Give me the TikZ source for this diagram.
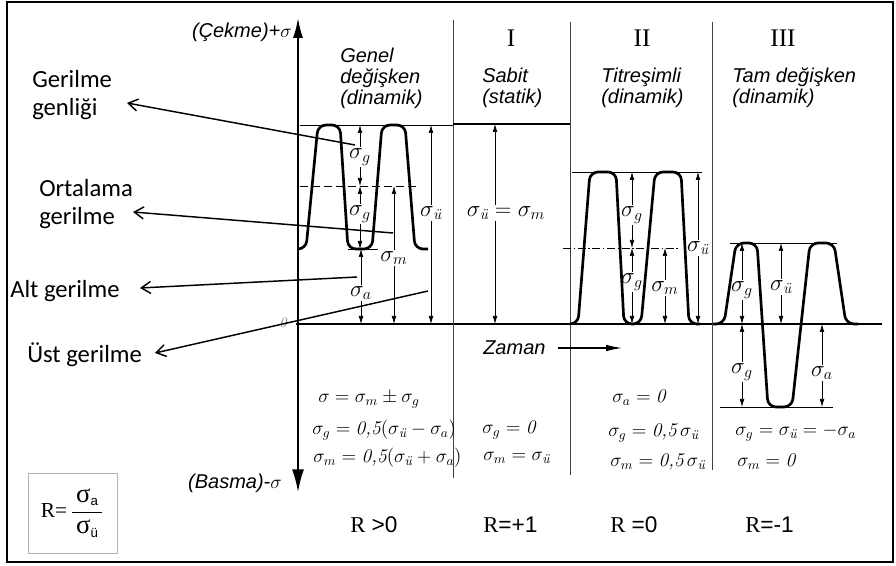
\documentclass[tikz,border=0pt]{standalone}
\usepackage{amsmath}
\usepackage{fontspec}
\newfontfamily\hv{Liberation Sans}
\newfontfamily\calib{Carlito}
\newfontfamily\tms{Liberation Serif}
\usetikzlibrary{arrows.meta}
\newcommand\su{\sigma_{\text{\rmfamily\itshape ü}}}
\newcommand\half{\text{\rmfamily\itshape 0,5}}
\newcommand\nul{\text{\rmfamily\itshape 0}}
\begin{document}
\begin{tikzpicture}[x=0.75pt,y=-0.75pt,
  wave/.style={line width=2pt,line join=round,rounded corners=6pt},
  ref/.style={line width=0.6pt},
  divider/.style={line width=0.7pt,black!75},
  dim/.style={line width=0.5pt,-{Latex[length=6pt,width=3.5pt]}},
  lbl/.style={line width=1.1pt,-{Straight Barb[length=7pt,width=9pt]}},
  hdr/.style={font=\hv\itshape\fontsize{15}{16}\selectfont,align=left,inner sep=0pt},
  side/.style={font=\calib\fontsize{18.5}{20.5}\selectfont,align=left,inner sep=0pt,anchor=north west},
  sig/.style={font=\fontsize{16.5}{16.5}\selectfont,inner sep=1pt},
  frm/.style={font=\fontsize{14.5}{14.5}\selectfont,inner sep=0pt,anchor=west},
  rlab/.style={font=\hv\fontsize{17}{17}\selectfont,inner sep=0pt,anchor=base west},
  roman/.style={font=\tms\fontsize{19}{19}\selectfont,inner sep=0pt},
]
\useasboundingbox (0,0) rectangle (896,566);
\draw[line width=1.5pt] (7,2) rectangle (893,562);

% levels
\coordinate (Lat) at (0,125);
\coordinate (Lam) at (0,186);
\coordinate (Lab) at (0,249);
\coordinate (base) at (0,324);
\coordinate (Lbt) at (0,172);
\coordinate (Lbm) at (0,248);
\coordinate (Lct) at (0,243);
\coordinate (Lcb) at (0,407);

% axes
\coordinate (ax0) at (298,324);
\coordinate (axtop) at (298,18);
\coordinate (axbot) at (298,492);
\draw[line width=1.4pt,-{Latex[length=15pt,width=7.5pt]}] (ax0) -- (axtop);
\draw[line width=1.4pt,-{Latex[length=17pt,width=9pt]}] (ax0) -- (axbot);
\coordinate (b0) at (296,324);
\coordinate (b1) at (882,324);
\draw[line width=1.3pt] (b0) -- (b1);
\node[font=\rmfamily\itshape\fontsize{11}{11}\selectfont,text=black!55,inner sep=0pt] (zero) at (283,323) {0};

\node[hdr,anchor=east] (cek) at (292,32) {(Çekme)+$\sigma$};
\node[hdr,anchor=east] (bas) at (282,483) {(Basma)-$\sigma$};

% dividers
\draw[divider] (453,20) coordinate (d1t) -- (453,478) coordinate (d1b);
\draw[divider] (570,22) coordinate (d2t) -- (570,475) coordinate (d2b);
\draw[divider] (712,22) coordinate (d3t) -- (712,470) coordinate (d3b);

% headers
\node[roman] (rI) at (511,38) {I};
\node[roman] (rII) at (642,38) {II};
\node[roman] (rIII) at (783,38) {III};
\node[hdr,anchor=north west] (h0) at (340,47.5) {Genel\\değişken\\(dinamik)};
\node[hdr,anchor=north west] (h1) at (482,67.5) {Sabit\\(statik)};
\node[hdr,anchor=north west] (h2) at (601,67.5) {Titreşimli\\(dinamik)};
\node[hdr,anchor=north west] (h3) at (732,67.5) {Tam değişken\\(dinamik)};

% reference lines
\draw[ref] (300,125) -- (453,125);
\draw[line width=1.5pt] (453,124) -- (570,124);
\draw[ref,dash pattern=on 6pt off 3pt] (300,186) -- (420,186);
\draw[ref] (348,249) -- (378,249);
\draw[ref] (572,172) -- (702,172);
\draw[ref,dash pattern=on 6pt off 2pt on 1pt off 2pt] (563,248) -- (680,248);
\draw[ref] (730,243) -- (837,243);
\draw[ref] (720,407) -- (833,407);

% waves
\draw[wave] (298,249) -- (306,249) -- (318,125) -- (340,125) -- (348,249) -- (372,249) -- (382,125) -- (405,125) -- (415,249) -- (428,249);
\draw[wave] (570,324) -- (578,324) -- (590,172) -- (616,172) -- (624,324) -- (641,324) -- (655,172) -- (681,172) -- (689,324) -- (700,324);
\draw[wave] (713,324) -- (724,324) -- (736,243) -- (757,243) -- (768,407) -- (792,407) -- (810,243) -- (834,243) -- (846,324) -- (858,324);

% panel 1 dimensions
\node[sig] (g1a) at (360,157) {$\sigma_g$};
\draw[dim] (g1a.north) -- (g1a.north |- Lat);
\draw[dim] (g1a.south) -- (g1a.south |- Lam);
\node[sig] (g1b) at (360,214) {$\sigma_g$};
\draw[dim] (g1b.north) -- (g1b.north |- Lam);
\draw[dim] (g1b.south) -- (g1b.south |- Lab);
\node[sig] (a1) at (361,293) {$\sigma_a$};
\draw[dim] (a1.north) -- (a1.north |- Lab);
\draw[dim] (a1.south) -- (a1.south |- base);
\node[sig] (m1) at (394,258) {$\sigma_m$};
\draw[dim] (m1.north) -- (m1.north |- Lam);
\draw[dim] (m1.south) -- (m1.south |- base);
\node[sig] (u1) at (431,213) {$\su$};
\draw[dim] (u1.north) -- (u1.north |- Lat);
\draw[dim] (u1.south) -- (u1.south |- base);

% panel I
\node[sig] (uI) at (506,213) {$\su=\sigma_m$};
\coordinate (pI) at (495,124);
\draw[dim] (pI |- uI.north) -- (pI);
\draw[dim] (pI |- uI.south) -- (pI |- base);

% panel II
\node[sig] (g2a) at (632,215) {$\sigma_g$};
\draw[dim] (g2a.north) -- (g2a.north |- Lbt);
\draw[dim] (g2a.south) -- (g2a.south |- Lbm);
\node[sig] (g2b) at (632,282) {$\sigma_g$};
\draw[dim] (g2b.north) -- (g2b.north |- Lbm);
\draw[dim] (g2b.south) -- (g2b.south |- base);
\node[sig] (m2) at (665,288) {$\sigma_m$};
\draw[dim] (m2.north) -- (m2.north |- Lbm);
\draw[dim] (m2.south) -- (m2.south |- base);
\node[sig] (u2) at (698,248) {$\su$};
\draw[dim] (u2.north) -- (u2.north |- Lbt);
\draw[dim] (u2.south) -- (u2.south |- base);

% panel III
\node[sig] (g3a) at (742,290) {$\sigma_g$};
\draw[dim] (g3a.north) -- (g3a.north |- Lct);
\draw[dim] (g3a.south) -- (g3a.south |- base);
\node[sig] (g3b) at (742,372) {$\sigma_g$};
\draw[dim] (g3b.north) -- (g3b.north |- base);
\draw[dim] (g3b.south) -- (g3b.south |- Lcb);
\node[sig] (u3) at (781,287) {$\su$};
\draw[dim] (u3.north) -- (u3.north |- Lct);
\draw[dim] (u3.south) -- (u3.south |- base);
\node[sig] (a3) at (822,373) {$\sigma_a$};
\draw[dim] (a3.north) -- (a3.north |- base);
\draw[dim] (a3.south) -- (a3.south |- Lcb);

% Zaman
\node[hdr,anchor=west] (zaman) at (483,348) {Zaman};
\coordinate (zs) at (558,348);
\coordinate (zt) at (622,348);
\draw[line width=0.9pt,-{Latex[length=12pt,width=5pt]}] (zs) -- (zt);

% side labels
\node[side] (genl) at (32,70.5) {Gerilme\\genliği};
\node[side] (orta) at (39,179.5) {Ortalama\\gerilme};
\node[side,anchor=base west] (alt) at (10,298) {Alt gerilme};
\node[side,anchor=base west] (ust) at (27,363) {Üst gerilme};
\coordinate (t1) at (127,103); \coordinate (s1) at (355,145);
\coordinate (t2) at (133,212); \coordinate (s2) at (393,233);
\coordinate (t3) at (140,288); \coordinate (s3) at (357,277);
\coordinate (t4) at (155,353); \coordinate (s4) at (428,291);
\draw[lbl] (s1) -- (t1);
\draw[lbl] (s2) -- (t2);
\draw[lbl] (s3) -- (t3);
\draw[lbl] (s4) -- (t4);

% formulas
\node[frm] (f1) at (318,400) {$\sigma=\sigma_m\pm\sigma_g$};
\node[frm] (f2) at (312,430) {$\sigma_g=\half(\su-\sigma_a)$};
\node[frm] (f3) at (313,458) {$\sigma_m=\half(\su+\sigma_a)$};
\node[frm] (fI1) at (482,430) {$\sigma_g=\nul$};
\node[frm] (fI2) at (483,458) {$\sigma_m=\su$};
\node[frm] (fII1) at (612,398) {$\sigma_a=\nul$};
\node[frm] (fII2) at (608,433) {$\sigma_g=\half\,\su$};
\node[frm] (fII3) at (610,462) {$\sigma_m=\half\,\su$};
\node[frm] (fIII1) at (735,433) {$\sigma_g=\su=-\sigma_a$};
\node[frm] (fIII2) at (737,462) {$\sigma_m=\nul$};

% R values
\node[rlab] (r0) at (350,532) {{\tms R} >0};
\node[rlab] (r1) at (483,532) {{\tms R}=+1};
\node[rlab] (r2) at (610,532) {{\tms R} =0};
\node[rlab] (r3) at (745,532) {{\tms R}=-1};

% R box
\node[draw=black!30,line width=0.6pt,minimum width=66.75pt,minimum height=60pt,inner sep=0pt,
      font=\tms\fontsize{16}{16}\selectfont] (rbox) at (72.5,513)
  {R=\,$\dfrac{\,\text{\tms\fontsize{20}{20}\selectfont σ}_{\text{\hv\fontsize{10}{10}\selectfont a}}\,}{\,\text{\tms\fontsize{20}{20}\selectfont σ}_{\text{\hv\fontsize{10}{10}\selectfont ü}}\,}$};
\end{tikzpicture}
\end{document}
